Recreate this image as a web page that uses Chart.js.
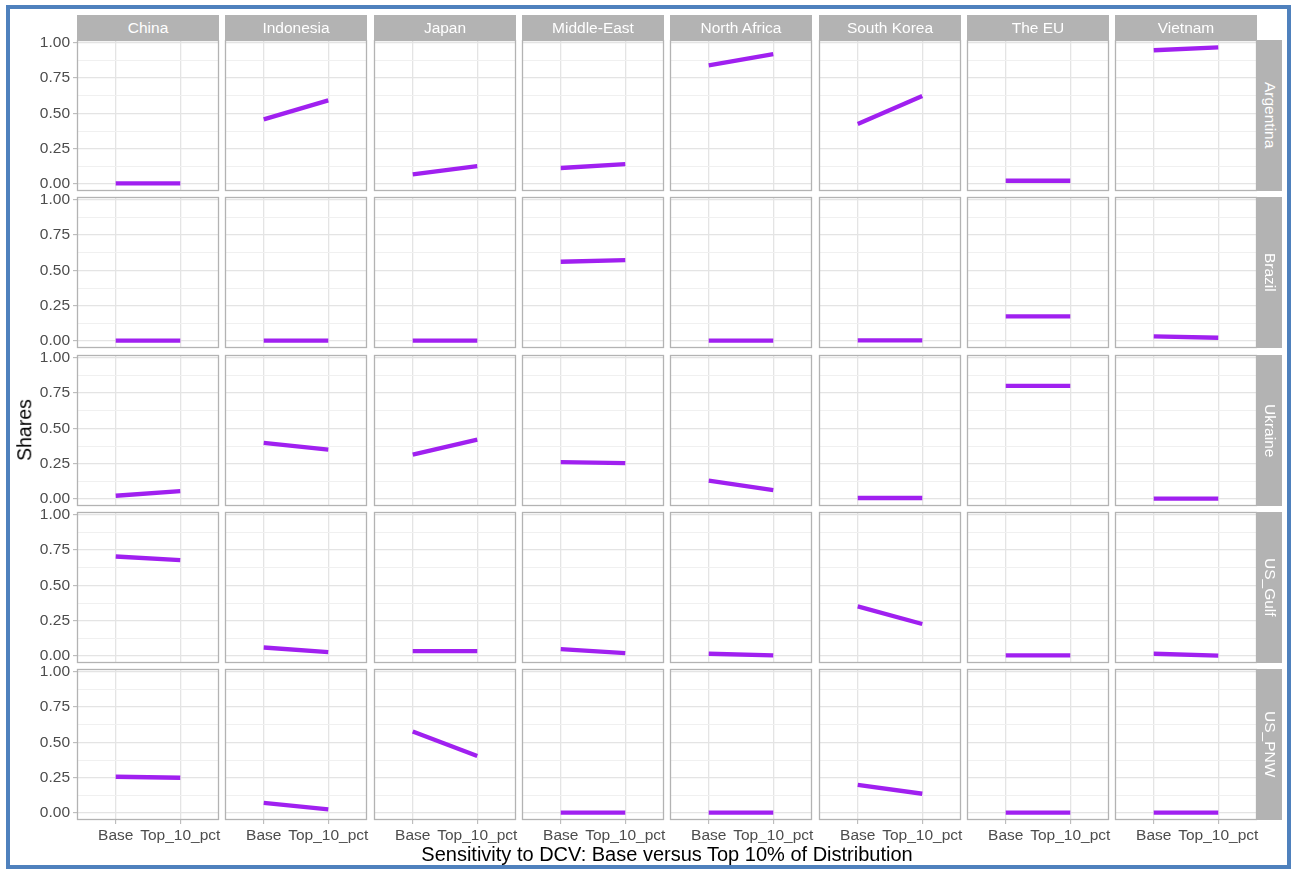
<!DOCTYPE html>
<html>
<head>
<meta charset="utf-8">
<script src="https://cdn.jsdelivr.net/npm/chart.js@4/dist/chart.umd.min.js"></script>
<style>
  html, body { margin: 0; padding: 0; background: #ffffff; }
  body { width: 1291px; height: 869px; position: relative; overflow: hidden;
         font-family: "Liberation Sans", Arial, sans-serif; }
  #frame { position: absolute; left: 6px; top: 5px; width: 1285px; height: 864px;
           border: 4px solid #4f81bd; box-sizing: border-box; }
  canvas { position: absolute; }
  .strip { position: absolute; background: #b3b3b3; color: #ffffff; font-size: 15.5px;
           display: flex; align-items: center; justify-content: center; white-space: nowrap; }
  .strip.side { writing-mode: vertical-rl; }
  .title { position: absolute; color: #000000; white-space: nowrap; line-height: 1; }
</style>
</head>
<body>
<div id="frame"></div>
<div id="plot"></div>
<script>
// Facets: columns are destinations, rows are origins
const destinations = ['China', 'Indonesia', 'Japan', 'Middle-East', 'North Africa', 'South Korea', 'The EU', 'Vietnam'];
const origins = ['Argentina', 'Brazil', 'Ukraine', 'US_Gulf', 'US_PNW'];
const scenarios = ['Base', 'Top_10_pct'];
const yTickValues = [0, 0.25, 0.5, 0.75, 1];
const yTickLabels = ['0.00', '0.25', '0.50', '0.75', '1.00'];

// Shares by destination, each entry is [Base, Top_10_pct]
const argentina = [[0.006, 0.006], [0.458, 0.592], [0.069, 0.128], [0.114, 0.141], [0.840, 0.919], [0.425, 0.623], [0.024, 0.024], [0.946, 0.967]];
const brazil    = [[0.003, 0.003], [0.004, 0.004], [0.004, 0.004], [0.561, 0.572], [0.004, 0.004], [0.005, 0.005], [0.175, 0.175], [0.033, 0.024]];
const ukraine   = [[0.024, 0.057], [0.397, 0.350], [0.314, 0.421], [0.262, 0.255], [0.130, 0.064], [0.008, 0.008], [0.800, 0.800], [0.003, 0.003]];
const usGulf    = [[0.704, 0.678], [0.061, 0.028], [0.035, 0.035], [0.050, 0.021], [0.017, 0.005], [0.352, 0.227], [0.005, 0.005], [0.017, 0.004]];
const usPnw     = [[0.257, 0.250], [0.073, 0.026], [0.577, 0.404], [0.003, 0.003], [0.003, 0.003], [0.200, 0.137], [0.003, 0.003], [0.003, 0.003]];
const sharesByOrigin = [argentina, brazil, ukraine, usGulf, usPnw];

// Shared axis limits (expanded around the 0..1 share range)
const Y_MIN = -0.0485, Y_MAX = 1.0185;
const X_MIN = 0.4, X_MAX = 2.6;

// Panel geometry
const PANEL_W = 142, PANEL_H = 151;
const COL_LEFT = [77, 225, 374, 522, 670, 819, 967, 1115];
const ROW_TOP = [40, 197, 355, 512, 669];
const AXIS_W = 77 - 9;     // room for y tick labels (left column)
const AXIS_H = 30;         // room for x tick labels (bottom row)
const PAD = 14;
const STRIP_H = 25, STRIP_W = 25;

const TICK_FONT = { family: 'Liberation Sans', size: 15.5 };
const TICK_COLOR = '#4d4d4d';
const LINE_COLOR = '#a020f0';

// minor grid halfway between the labelled ticks
const yGridValues = [];
yTickValues.forEach((v, i) => {
  yGridValues.push(v);
  if (i < yTickValues.length - 1) yGridValues.push((v + yTickValues[i + 1]) / 2);
});

const panelBorder = {
  id: 'panelBorder',
  afterDraw(chart) {
    const a = chart.chartArea, ctx = chart.ctx;
    ctx.save();
    ctx.strokeStyle = '#b3b3b3';
    ctx.lineWidth = 1.3;
    ctx.strokeRect(a.left + 0.5, a.top + 0.5, a.width - 1, a.height - 1);
    ctx.restore();
  }
};

const plot = document.getElementById('plot');

function isMajor(v) { return yTickValues.some(t => Math.abs(t - v) < 1e-9); }

function makePanel(r, c) {
  const firstCol = c === 0;
  const lastRow = r === origins.length - 1;
  const L = firstCol ? AXIS_W : 0;
  const B = lastRow ? AXIS_H : 0;

  const canvas = document.createElement('canvas');
  canvas.width = PANEL_W + L + 2 * PAD;
  canvas.height = PANEL_H + B + 2 * PAD;
  canvas.style.left = (COL_LEFT[c] - L - PAD) + 'px';
  canvas.style.top = (ROW_TOP[r] - PAD) + 'px';
  canvas.style.width = canvas.width + 'px';
  canvas.style.height = canvas.height + 'px';
  plot.appendChild(canvas);

  const pair = sharesByOrigin[r][c];

  new Chart(canvas, {
    type: 'line',
    data: {
      datasets: [{
        label: origins[r] + ' \u2192 ' + destinations[c],
        data: scenarios.map((s, i) => ({ x: i + 1, y: pair[i] })),
        borderColor: LINE_COLOR,
        borderWidth: 4.3,
        pointRadius: 0,
        tension: 0,
        borderCapStyle: 'butt'
      }]
    },
    options: {
      responsive: false,
      animation: false,
      devicePixelRatio: 1,
      layout: { padding: PAD },
      plugins: { legend: { display: false }, tooltip: { enabled: false } },
      scales: {
        x: {
          type: 'linear',
          min: X_MIN, max: X_MAX,
          afterBuildTicks: s => { s.ticks = scenarios.map((_, i) => ({ value: i + 1 })); },
          afterFit: s => { s.height = B; },
          border: { display: false },
          grid: { color: '#e4e4e4', lineWidth: 1.3, drawTicks: lastRow, tickLength: 4,
                  tickColor: '#b3b3b3', tickWidth: 1 },
          ticks: { display: lastRow, autoSkip: false, maxRotation: 0, padding: 2,
                   color: TICK_COLOR, font: TICK_FONT,
                   callback: (v, i) => scenarios[i] }
        },
        y: {
          type: 'linear',
          min: Y_MIN, max: Y_MAX,
          afterBuildTicks: s => { s.ticks = yGridValues.map(v => ({ value: v })); },
          afterFit: s => { s.width = L; },
          border: { display: false },
          grid: {
            color: ctx => isMajor(ctx.tick.value) ? '#e4e4e4' : '#f0f0f0',
            lineWidth: ctx => isMajor(ctx.tick.value) ? 1.3 : 1,
            drawTicks: firstCol, tickLength: 4,
            tickColor: ctx => isMajor(ctx.tick.value) ? '#b3b3b3' : 'rgba(0,0,0,0)',
            tickWidth: 1
          },
          ticks: { display: firstCol, autoSkip: false, padding: 3,
                   color: TICK_COLOR, font: TICK_FONT,
                   callback: v => {
                     const k = yTickValues.findIndex(t => Math.abs(t - v) < 1e-9);
                     return k >= 0 ? yTickLabels[k] : '';
                   } }
        }
      }
    },
    plugins: [panelBorder]
  });
}

for (let r = 0; r < origins.length; r++) {
  for (let c = 0; c < destinations.length; c++) makePanel(r, c);
}

// facet strips
destinations.forEach((name, c) => {
  const d = document.createElement('div');
  d.className = 'strip';
  d.style.left = COL_LEFT[c] + 'px';
  d.style.top = (ROW_TOP[0] - STRIP_H) + 'px';
  d.style.width = PANEL_W + 'px';
  d.style.height = STRIP_H + 'px';
  d.textContent = name;
  plot.appendChild(d);
});
origins.forEach((name, r) => {
  const d = document.createElement('div');
  d.className = 'strip side';
  d.style.left = (COL_LEFT[destinations.length - 1] + PANEL_W) + 'px';
  d.style.top = ROW_TOP[r] + 'px';
  d.style.width = STRIP_W + 'px';
  d.style.height = PANEL_H + 'px';
  d.textContent = name;
  plot.appendChild(d);
});

// axis titles
const yTitle = document.createElement('div');
yTitle.className = 'title';
yTitle.textContent = 'Shares';
yTitle.style.fontSize = '19.5px';
yTitle.style.left = '25px';
yTitle.style.top = ((ROW_TOP[0] + ROW_TOP[ROW_TOP.length - 1] + PANEL_H) / 2) + 'px';
yTitle.style.transform = 'translate(-50%, -50%) rotate(-90deg)';
plot.appendChild(yTitle);

const xTitle = document.createElement('div');
xTitle.className = 'title';
xTitle.textContent = 'Sensitivity to DCV: Base versus Top 10% of Distribution';
xTitle.style.fontSize = '20px';
xTitle.style.left = ((COL_LEFT[0] + COL_LEFT[COL_LEFT.length - 1] + PANEL_W) / 2) + 'px';
xTitle.style.top = '844px';
xTitle.style.transform = 'translateX(-50%)';
plot.appendChild(xTitle);
</script>
</body>
</html>
